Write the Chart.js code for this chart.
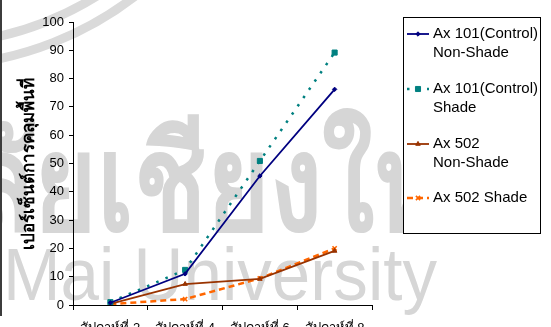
<!DOCTYPE html>
<html>
<head>
<meta charset="utf-8">
<style>
  html, body { margin: 0; padding: 0; background: #fff; }
  #wrap { width: 551px; height: 327px; }
</style>
<script src="https://cdn.jsdelivr.net/npm/chart.js@4/dist/chart.umd.min.js"></script>
</head>
<body>
<div id="wrap"><canvas id="c" width="551" height="327"></canvas></div>
<script>
// Weekly ground-cover percentage, four treatments
const weeks = ['สัปดาห์ที่ 2', 'สัปดาห์ที่ 4', 'สัปดาห์ที่ 6', 'สัปดาห์ที่ 8'];
const ax101NonShade = [0.8, 11.0, 45.6, 76.2];
const ax101Shade    = [1.0, 12.4, 50.9, 89.2];
const ax502NonShade = [0.4, 7.4, 9.2, 19.1];
const ax502Shade    = [0.3, 2.1, 9.4, 20.0];
const seriesLabels = [
  ['Ax 101(Control)', 'Non-Shade'],
  ['Ax 101(Control)', 'Shade'],
  ['Ax 502', 'Non-Shade'],
  ['Ax 502 Shade']
];
const yTitle = 'เปอร์เซ็นต์การคลุมพื้นที่';
const yMin = 0, yMax = 100, yStep = 10;

const FONT = '"Liberation Sans", Arial, "Noto Sans", sans-serif';

// Faint university watermark behind the plot
const watermark = {
  id: 'watermark',
  beforeDraw(chart) {
    const ctx = chart.ctx;
    ctx.save();
    ctx.fillStyle = '#fff';
    ctx.fillRect(0, 0, chart.width, chart.height);

    ctx.strokeStyle = '#dadada';
    ctx.lineWidth = 9;
    ctx.beginPath(); ctx.arc(-70, -270, 314, 0, Math.PI); ctx.stroke();
    ctx.beginPath(); ctx.arc(-70, -270, 336, 0, Math.PI); ctx.stroke();

    ctx.fillStyle = '#d6d6d6';
    ctx.textBaseline = 'alphabetic';
    ctx.textAlign = 'left';
    ctx.save();
    ctx.translate(97, 230);
    ctx.scale(0.8, 1);
    ctx.font = 'bold 134px ' + FONT;
    const pre = ctx.measureText('ลัย').width;
    ctx.fillText('ลัยเชียงใหม่', -pre, 0);
    ctx.restore();

    ctx.font = '74px ' + FONT;
    ctx.fillText('Mai University', 3, 300, 434);

    ctx.fillStyle = '#3c3c3c';
    ctx.fillRect(0, 0, 2, 316);
    ctx.restore();
  }
};

// Boxed legend on the right with line-and-marker samples
const boxLegend = {
  id: 'boxLegend',
  afterDraw(chart) {
    const ctx = chart.ctx;
    ctx.save();
    ctx.fillStyle = '#fff';
    ctx.fillRect(403.5, 17.5, 137, 216);
    ctx.strokeStyle = '#000';
    ctx.lineWidth = 1;
    ctx.strokeRect(403.5, 17.5, 137, 216);
    const rows = [34, 89, 144, 198];
    ctx.font = '15px ' + FONT;
    ctx.textBaseline = 'middle';
    ctx.textAlign = 'left';
    chart.data.datasets.forEach((ds, i) => {
      const y = rows[i];
      ctx.save();
      ctx.strokeStyle = ds.borderColor;
      ctx.lineWidth = ds.borderWidth;
      ctx.setLineDash(ds.borderDash || []);
      ctx.beginPath();
      ctx.moveTo(407, y);
      ctx.lineTo(429, y);
      ctx.stroke();
      ctx.restore();
      ctx.save();
      ctx.fillStyle = ds.pointBackgroundColor;
      ctx.strokeStyle = ds.pointBorderColor;
      ctx.lineWidth = ds.pointBorderWidth;
      Chart.helpers.drawPoint(ctx, {
        pointStyle: ds.pointStyle, radius: ds.pointRadius, rotation: 0, borderWidth: ds.pointBorderWidth
      }, 418, y);
      ctx.restore();
      ctx.fillStyle = '#000';
      seriesLabels[i].forEach((line, k) => ctx.fillText(line, 433, y + k * 19));
    });
    ctx.restore();
  }
};

const styles = [
  { color: '#000080', width: 1.8, dash: [], point: 'rectRot', r: 2.2 },
  { color: '#008080', width: 2.5, dash: [2.5, 7.5], point: 'rect', r: 3.6 },
  { color: '#993300', width: 1.8, dash: [], point: 'triangle', r: 2.6 },
  { color: '#FF6600', width: 2.5, dash: [6, 4], point: 'crossRot', r: 3 }
];
const values = [ax101NonShade, ax101Shade, ax502NonShade, ax502Shade];

new Chart(document.getElementById('c'), {
  type: 'line',
  data: {
    labels: weeks,
    datasets: values.map((v, i) => ({
      label: seriesLabels[i].join(' '),
      data: v,
      borderColor: styles[i].color,
      backgroundColor: styles[i].color,
      borderWidth: styles[i].width,
      borderDash: styles[i].dash,
      pointStyle: styles[i].point,
      pointRadius: styles[i].r,
      pointBackgroundColor: styles[i].color,
      pointBorderColor: styles[i].color,
      pointBorderWidth: i === 3 ? 1.5 : 1,
      tension: 0,
      fill: false
    }))
  },
  options: {
    responsive: false,
    animation: false,
    layout: { padding: { top: 22, right: 179, left: 0, bottom: 0 } },
    plugins: { legend: { display: false }, tooltip: { enabled: false } },
    scales: {
      x: {
        offset: true,
        grid: { offset: true, drawOnChartArea: false, drawTicks: true, tickLength: 5, color: '#000', lineWidth: 1 },
        border: { color: '#000', width: 1 },
        ticks: { color: '#000', font: { family: FONT, size: 13 }, maxRotation: 0, minRotation: 0, autoSkip: false, padding: 11 },
        afterFit(scale) { scale.height = 22; }
      },
      y: {
        min: yMin, max: yMax,
        grid: { drawOnChartArea: false, drawTicks: true, tickLength: 4, color: '#000', lineWidth: 1 },
        border: { color: '#000', width: 1 },
        ticks: { stepSize: yStep, color: '#000', font: { family: FONT, size: 13 }, padding: 5 },
        title: { display: true, text: yTitle, color: '#000', font: { family: FONT, size: 17, weight: 'bold' }, padding: { top: 19, bottom: 0 } },
        afterFit(scale) { scale.width = 73; }
      }
    }
  },
  plugins: [watermark, boxLegend]
});
</script>
</body>
</html>
